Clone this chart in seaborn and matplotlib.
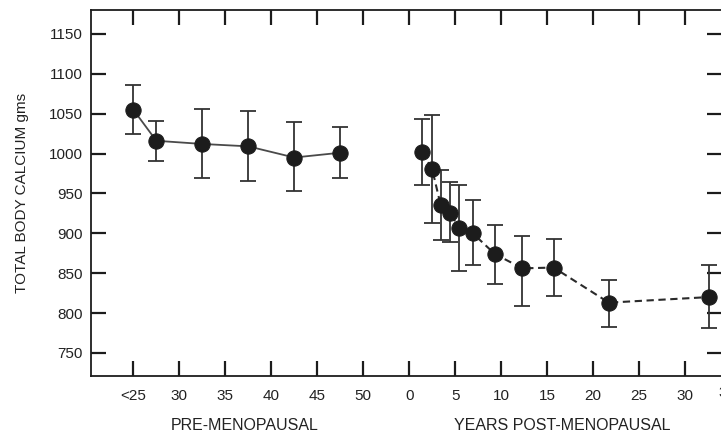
import numpy as np
import pandas as pd
import matplotlib
matplotlib.use("Agg")
import matplotlib.pyplot as plt
import seaborn as sns

# pre-menopausal: age group midpoints
pre_age = [25, 27.5, 32.5, 37.5, 42.5, 47.5]
pre_ca = [1055, 1016, 1012, 1009, 995, 1001]
pre_lo = [1024, 991, 969, 966, 953, 969]
pre_hi = [1086, 1041, 1056, 1053, 1040, 1033]

# post-menopausal: years since menopause
post_yrs = [1.4, 2.5, 3.4, 4.4, 5.4, 6.9, 9.3, 12.3, 15.7, 21.7, 32.6]
post_ca = [1002, 980, 936, 926, 907, 900, 874, 856, 857, 813, 820]
post_lo = [960, 913, 892, 889, 853, 860, 837, 809, 821, 783, 781]
post_hi = [1043, 1048, 979, 964, 960, 942, 910, 897, 893, 842, 860]

tick_labels = ["<25", "30", "35", "40", "45", "50", "0", "5", "10", "15", "20", "25", "30", "35"]
y_ticks = [750, 800, 850, 900, 950, 1000, 1050, 1100, 1150]

POST_OFFSET = 55  # post-menopausal year 0 sits one tick after age 50

df = pd.concat([
    pd.DataFrame({"x": pre_age, "ca": pre_ca, "lo": pre_lo, "hi": pre_hi, "grp": "pre"}),
    pd.DataFrame({"x": np.array(post_yrs) + POST_OFFSET, "ca": post_ca,
                  "lo": post_lo, "hi": post_hi, "grp": "post"}),
], ignore_index=True)

sns.set_style("ticks")
plt.rcParams["font.family"] = ["Liberation Sans", "DejaVu Sans"]
ink = "#1c1c1c"

fig = plt.figure(figsize=(7.21, 4.34), dpi=100)
ax = fig.add_axes([91 / 721, 58 / 434, 631 / 721, 366 / 434])

sns.lineplot(data=df[df.grp == "pre"], x="x", y="ca", ax=ax, color="#4a4a4a",
             lw=1.3, marker="o", markersize=11, markeredgecolor=ink,
             markerfacecolor=ink, estimator=None)
sns.lineplot(data=df[df.grp == "post"], x="x", y="ca", ax=ax, color="#2a2a2a",
             lw=1.5, linestyle=(0, (3.5, 2.2)), marker="o", markersize=11,
             markeredgecolor=ink, markerfacecolor=ink, estimator=None)

ax.errorbar(df["x"], df["ca"], yerr=[df["ca"] - df["lo"], df["hi"] - df["ca"]],
            fmt="none", ecolor="#333333", elinewidth=1.3, capsize=5.5,
            capthick=1.3, zorder=1)

x_ticks = [25, 30, 35, 40, 45, 50] + [POST_OFFSET + v for v in range(0, 31, 5)]
ax.set_xlim(20.4, 89.0)
ax.set_ylim(721, 1180)
ax.set_xticks(x_ticks)
ax.set_xticklabels(tick_labels[:len(x_ticks)])
ax.set_yticks(y_ticks)
ax.tick_params(axis="both", direction="in", length=11, width=1.6, colors=ink,
               labelsize=11, top=True, right=True, labelcolor="#222222")
ax.tick_params(axis="x", pad=9)
ax.tick_params(axis="y", pad=6)
# partially visible last label, cut by the right edge as in the scan
fig.text(727 / 721, 1 - 386 / 434, tick_labels[-1], ha="center", va="top",
         fontsize=11, color="#222222")

for s in ax.spines.values():
    s.set_linewidth(1.3)
    s.set_color(ink)

ax.set_xlabel("")
ax.set_ylabel("TOTAL BODY CALCIUM gms", fontsize=11, color="#222222", labelpad=14)
fig.text(245 / 721, 1 - 425 / 434, "PRE-MENOPAUSAL", ha="center", va="center",
         fontsize=11.5, color="#222222")
fig.text(562 / 721, 1 - 425 / 434, "YEARS POST-MENOPAUSAL", ha="center", va="center",
         fontsize=11.5, color="#222222")

fig.savefig("out.png", dpi=100)
